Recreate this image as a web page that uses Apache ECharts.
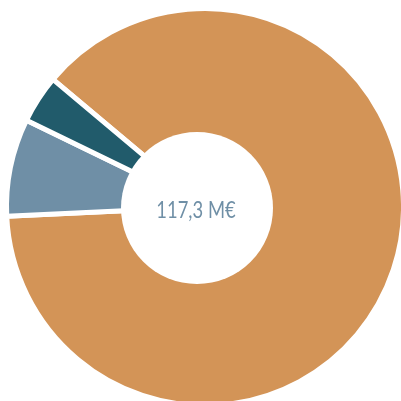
<!DOCTYPE html>
<html lang="fr">
<head>
    <meta charset="utf-8">
    <title>Donut</title>
    <script src="https://cdn.jsdelivr.net/npm/echarts@6/dist/echarts.min.js"></script>
    <style>
        html, body { margin: 0; padding: 0; background: #fff; }
        #chart { width: 401px; height: 401px; }
    </style>
</head>
<body>
    <div id="chart"></div>
    <script>
        // données
        var categories = ['Part A', 'Part B', 'Part C'];
        var values = [103.4, 9.3, 4.6];
        var colors = ['#D39457', '#6F8FA6', '#215B6B'];
        var totalLabel = '117,3 M€';

        var chart = echarts.init(document.getElementById('chart'));

        var pieData = categories.map(function (name, i) {
            return { name: name, value: values[i], itemStyle: { color: colors[i] } };
        });

        chart.setOption({
            animation: false,
            series: [{
                type: 'pie',
                z: 2,
                center: [205, 207],
                radius: [55, 198.5],
                startAngle: 140,
                clockwise: true,
                label: { show: false },
                labelLine: { show: false },
                emphasis: { disabled: true },
                itemStyle: { borderColor: '#fff', borderWidth: 5 },
                data: pieData
            }],
            // trou central (légèrement décalé comme l'original)
            graphic: [{
                type: 'circle',
                z: 100,
                shape: { cx: 197, cy: 208, r: 76 },
                style: { fill: '#fff' }
            }, {
                type: 'text',
                z: 101,
                x: 196,
                y: 211,
                scaleX: 0.8,
                style: {
                    text: totalLabel,
                    fill: '#6F8FA6',
                    font: '23px Lato, sans-serif',
                    align: 'center',
                    verticalAlign: 'middle'
                }
            }]
        });
    </script>
</body>
</html>
